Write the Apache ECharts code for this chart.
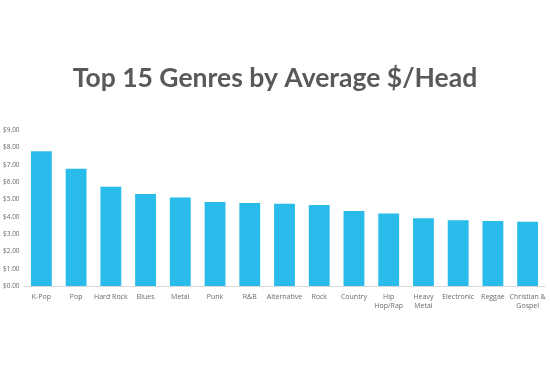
<!DOCTYPE html>
<html><head><meta charset="utf-8">
<script src="https://cdn.jsdelivr.net/npm/echarts@6/dist/echarts.min.js"></script>
<style>html,body{margin:0;padding:0;background:#fff}#c{width:550px;height:366px}</style>
</head><body><div id="c"></div>
<script>
var categories = ['K-Pop','Pop','Hard Rock','Blues','Metal','Punk','R&B','Alternative','Rock','Country','Hip\nHop/Rap','Heavy\nMetal','Electronic','Reggae','Christian &\nGospel'];
var values = [7.78, 6.76, 5.72, 5.31, 5.11, 4.84, 4.79, 4.75, 4.68, 4.33, 4.18, 3.91, 3.79, 3.75, 3.71];
var yTicks = [0,1,2,3,4,5,6,7,8,9];
var chart = echarts.init(document.getElementById('c'));
chart.setOption({
  animation:false,
  title:{text:'Top 15 Genres by Average $/Head',left:'center',top:60,
    textStyle:{fontFamily:'Lato',fontWeight:'bold',fontSize:26.5,color:'#595959'}},
  grid:{left:24,right:5,top:130,bottom:80,containLabel:false},
  xAxis:{type:'category',data:categories,
    axisLine:{lineStyle:{color:'#d9d9d9'}},axisTick:{show:false},
    axisLabel:{interval:0,fontSize:7,color:'#6a6a6a',fontFamily:'Open Sans',lineHeight:9,margin:6}},
  yAxis:{type:'value',min:0,max:9,interval:1,splitLine:{show:false},
    axisLine:{show:false},axisTick:{show:false},
    axisLabel:{fontSize:6.5,color:'#6a6a6a',fontFamily:'Open Sans',align:'left',margin:21,
      formatter:function(v){return '$'+v.toFixed(2);}}},
  series:[{type:'bar',data:values,barWidth:'60%',itemStyle:{color:'#29bbe9'}}]
});
</script></body></html>
